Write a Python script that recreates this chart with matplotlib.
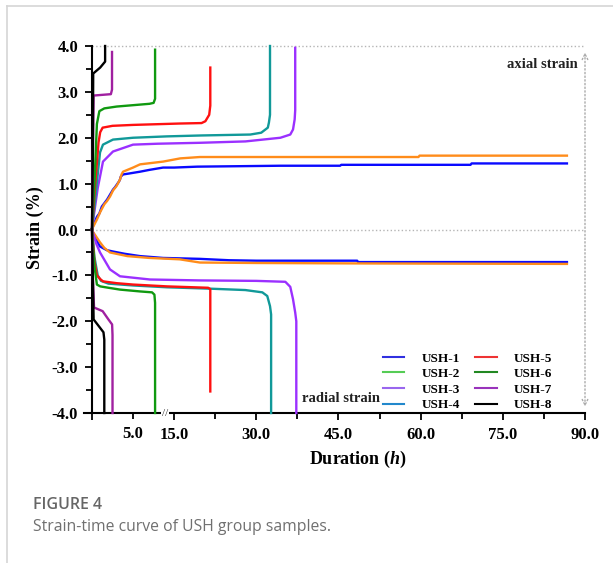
import numpy as np
import matplotlib
matplotlib.use('Agg')
import matplotlib.pyplot as plt
from matplotlib.lines import Line2D

plt.rcParams['font.family'] = ['Liberation Serif', 'DejaVu Serif']
plt.rcParams['font.weight'] = 'bold'
plt.rcParams['mathtext.fontset'] = 'custom'
plt.rcParams['mathtext.it'] = 'Liberation Serif:bold:italic'
plt.rcParams['mathtext.rm'] = 'Liberation Serif:bold'

# 数据 (时间 h, 应变 %)
ush1_ax_t = [0, 0.12, 0.61, 0.9, 1.2, 1.83, 2.0, 2.56, 2.8, 3.3, 3.41, 3.5, 3.78, 4.5, 5.85, 7.0, 8.65, 15, 19.2, 34.4, 45.3, 45.5, 69.1, 69.3, 86.7]
ush1_ax_s = [0, 0.07, 0.28, 0.35, 0.50, 0.65, 0.70, 0.87, 0.92, 1.05, 1.09, 1.15, 1.20, 1.22, 1.26, 1.30, 1.35, 1.35, 1.37, 1.39, 1.39, 1.41, 1.41, 1.44, 1.44]
ush1_ra_t = [0, 0.12, 0.61, 0.98, 1.8, 2.56, 4.0, 5.85, 8.65, 19.7, 25, 30, 48.4, 48.6, 86.7]
ush1_ra_s = [0, -0.07, -0.25, -0.37, -0.45, -0.48, -0.53, -0.58, -0.62, -0.64, -0.67, -0.68, -0.68, -0.71, -0.71]

ush2_ax_t = [0, 0.12, 0.61, 1.0, 1.5, 1.83, 2.2, 2.56, 3.0, 3.41, 3.6, 3.78, 5.0, 5.85, 8.65, 16.1, 19.7, 40, 59.6, 59.8, 86.7]
ush2_ax_s = [0, 0.05, 0.22, 0.38, 0.55, 0.62, 0.72, 0.85, 0.95, 1.09, 1.20, 1.26, 1.35, 1.42, 1.48, 1.55, 1.58, 1.58, 1.58, 1.61, 1.61]
ush2_ra_t = [0, 0.12, 0.98, 1.5, 2.19, 4.3, 7.0, 16, 19.7, 30, 50, 86.7]
ush2_ra_s = [0, -0.05, -0.28, -0.40, -0.50, -0.58, -0.62, -0.65, -0.72, -0.73, -0.74, -0.75]

ush3_ax_t = [0, 0.3, 0.7, 1.34, 2.56, 5.0, 8.0, 19.7, 28, 34.4, 36.2, 36.7, 37.0, 37.1, 37.1]
ush3_ax_s = [0, 0.4, 0.9, 1.48, 1.70, 1.85, 1.87, 1.89, 1.92, 2.0, 2.07, 2.18, 2.4, 2.6, 3.96]
ush3_ra_t = [0, 0.5, 0.98, 2.19, 3.41, 7.07, 19.7, 30, 35.3, 36.2, 36.7, 37.1, 37.3, 37.3]
ush3_ra_s = [0, -0.3, -0.5, -0.87, -1.02, -1.09, -1.11, -1.12, -1.14, -1.25, -1.52, -1.81, -2.0, -4.0]

ush4_ax_t = [0, 0.3, 0.7, 0.98, 1.34, 2.56, 5.0, 13.7, 20, 28.9, 30.9, 32.1, 32.3, 32.5, 32.5]
ush4_ax_s = [0, 0.5, 1.2, 1.68, 1.85, 1.96, 2.0, 2.03, 2.05, 2.07, 2.11, 2.22, 2.33, 2.5, 4.0]
ush4_ra_t = [0, 0.3, 0.7, 1.1, 2, 5, 13.7, 21.6, 28, 31.1, 32.0, 32.5, 32.7, 32.7]
ush4_ra_s = [0, -0.6, -1.0, -1.12, -1.18, -1.22, -1.26, -1.29, -1.32, -1.37, -1.45, -1.67, -1.85, -4.0]

ush5_ax_t = [0, 0.4, 0.8, 1.0, 1.3, 2.5, 5, 10, 16, 20, 20.7, 21.4, 21.6, 21.6]
ush5_ax_s = [0, 1.0, 1.9, 2.12, 2.22, 2.26, 2.28, 2.30, 2.31, 2.32, 2.36, 2.5, 2.7, 3.53]
ush5_ra_t = [0, 0.3, 0.6, 1.0, 1.34, 3, 5, 13.7, 21.2, 21.6, 21.6]
ush5_ra_s = [0, -0.7, -1.0, -1.08, -1.13, -1.17, -1.2, -1.24, -1.27, -1.3, -3.53]

ush6_ax_t = [0, 0.3, 0.6, 0.9, 1.5, 3, 5, 7.0, 7.5, 7.68, 7.68]
ush6_ax_s = [0, 1.0, 2.3, 2.58, 2.64, 2.68, 2.71, 2.74, 2.76, 2.85, 3.92]
ush6_ra_t = [0, 0.3, 0.6, 1.0, 2, 3.41, 5.85, 7.31, 7.6, 7.68, 7.68]
ush6_ra_s = [0, -0.8, -1.2, -1.24, -1.27, -1.31, -1.35, -1.37, -1.42, -1.6, -4.0]

ush7_ax_t = [0, 0.1, 0.2, 2.3, 2.44, 2.44]
ush7_ax_s = [0, 1.5, 2.92, 2.95, 3.05, 3.87]
ush7_ra_t = [0, 0.1, 0.25, 1.3, 2.0, 2.45, 2.5, 2.5]
ush7_ra_s = [0, -1.0, -1.70, -1.78, -1.96, -2.07, -2.3, -4.0]

ush8_ax_t = [0, 0.1, 0.15, 1.0, 1.6, 1.6]
ush8_ax_s = [0, 1.5, 3.40, 3.53, 3.66, 4.0]
ush8_ra_t = [0, 0.1, 0.2, 1.4, 1.5, 1.5]
ush8_ra_s = [0, -1.0, -1.96, -2.24, -2.4, -4.0]

curves = [
    (ush1_ax_t, ush1_ax_s, ush1_ra_t, ush1_ra_s, '#0a0aff'),
    (ush2_ax_t, ush2_ax_s, ush2_ra_t, ush2_ra_s, '#ff8c1a'),
    (ush3_ax_t, ush3_ax_s, ush3_ra_t, ush3_ra_s, '#9b30ff'),
    (ush4_ax_t, ush4_ax_s, ush4_ra_t, ush4_ra_s, '#119999'),
    (ush5_ax_t, ush5_ax_s, ush5_ra_t, ush5_ra_s, '#ff1010'),
    (ush6_ax_t, ush6_ax_s, ush6_ra_t, ush6_ra_s, '#109910'),
    (ush7_ax_t, ush7_ax_s, ush7_ra_t, ush7_ra_s, '#a020a0'),
    (ush8_ax_t, ush8_ax_s, ush8_ra_t, ush8_ra_s, '#000000'),
]

legend_names = ['USH-1', 'USH-2', 'USH-3', 'USH-4', 'USH-5', 'USH-6', 'USH-7', 'USH-8']
legend_colors = ['#3030e0', '#55cc55', '#9966ee', '#2288cc', '#ee3333', '#228822', '#9933bb', '#000000']

x_major = [0, 15, 30, 45, 60, 75, 90]
x_major_labels = ['', '15.0', '30.0', '45.0', '60.0', '75.0', '90.0']
x_minor = [5, 22.5, 37.5, 52.5, 67.5, 82.5]
x_minor_labels = ['5.0', '', '', '', '', '']
y_major = [-4, -3, -2, -1, 0, 1, 2, 3, 4]
y_major_labels = ['-4.0', '-3.0', '-2.0', '-1.0', '0.0', '1.0', '2.0', '3.0', '4.0']
y_minor = [-3.5, -2.5, -1.5, -0.5, 0.5, 1.5, 2.5, 3.5]


# 断轴: 0~8.8h 压缩显示, 之后从 13.2h 接上
def fwd(x):
    x = np.asarray(x, dtype=float)
    return np.where(x <= 8.8, 1.5 * x, np.maximum(x, 13.2))


def inv(u):
    u = np.asarray(u, dtype=float)
    return np.where(u <= 13.2, u / 1.5, u)


L, R, T, B = 84, 585, 46, 413  # 坐标轴像素位置
W, H = R - L, B - T

fig = plt.figure(figsize=(6.13, 5.63), dpi=100)
ax = fig.add_axes([L / 613, 1 - B / 563, W / 613, H / 563])
ax.set_xscale('function', functions=(fwd, inv))

# 参考虚线
ax.plot([0, 90], [0, 0], ':', color='#b5b5b5', lw=1.0, zorder=1)
ax.plot([0, 90], [4, 4], ':', color='#b5b5b5', lw=1.0, zorder=1, clip_on=False)
ax.annotate('', xy=(90, 3.92), xytext=(90, -3.92),
            arrowprops=dict(arrowstyle='<->', ls=':', color='#aaaaaa', lw=1.0))

for at, asv, rt, rs, c in curves:
    ax.plot(at, asv, color=c, lw=1.7, zorder=3, clip_on=False)
    ax.plot(rt, rs, color=c, lw=1.7, zorder=3, clip_on=False)

ax.set_xlim(-0.97, 90)
ax.set_ylim(-4, 4)

ax.spines['left'].set_position(('data', 0))
ax.spines['top'].set_visible(False)
ax.spines['right'].set_visible(False)
ax.spines['left'].set_linewidth(1.5)
ax.spines['bottom'].set_linewidth(1.5)

ax.set_xticks(x_major, labels=x_major_labels)
ax.set_xticks(x_minor, labels=x_minor_labels, minor=True)
ax.set_yticks(y_major, labels=y_major_labels)
ax.set_yticks(y_minor, minor=True)
ax.tick_params(axis='both', which='both', direction='out', width=1.3, labelsize=12)
ax.tick_params(axis='both', which='major', length=5)
ax.tick_params(axis='both', which='minor', length=4)
ax.tick_params(axis='x', which='both', pad=5)
ax.tick_params(axis='y', which='both', pad=5)

# 断轴标记
ax.text((165 - L) / W, 0, '//', transform=ax.transAxes, ha='center', va='center',
        fontsize=8, fontweight='normal', color='#333333',
        bbox=dict(boxstyle='square,pad=0.05', fc='white', ec='none'), zorder=5)

ax.set_xlabel('Duration ($h$)', fontsize=13, fontweight='bold')
ax.set_ylabel('Strain (%)', fontsize=13, fontweight='bold')
ax.xaxis.set_label_coords((358 - L) / W, (B - 449) / H)
ax.yaxis.set_label_coords((44 - L) / W, (B - 228) / H)

ax.text((578 - L) / W, (B - 64) / H, 'axial strain', transform=ax.transAxes, ha='right', va='center',
        fontsize=10.5, fontweight='bold', color='#222222')
ax.text((380 - L) / W, (B - 398) / H, 'radial strain', transform=ax.transAxes, ha='right', va='center',
        fontsize=10.5, fontweight='bold', color='#222222')

handles = [Line2D([], [], color=c, lw=1.5) for c in legend_colors]
ax.legend(handles, legend_names, ncol=2, loc='lower left', bbox_to_anchor=((383 - L) / W, 0.005),
          frameon=False, prop=dict(family='Liberation Serif', weight='bold', size=9.5),
          handlelength=1.6, handletextpad=1.3, columnspacing=1.2, labelspacing=0.25,
          borderpad=0, borderaxespad=0)

# 图注
fig.text(33 / 613, 1 - 505 / 563, 'FIGURE 4', family='Open Sans', fontweight='semibold',
         fontsize=11.5, color='#666666', va='center')
fig.text(33 / 613, 1 - 527 / 563, 'Strain-time curve of USH group samples.', family='Open Sans',
         fontweight='normal', fontsize=11.3, color='#707070', va='center')

# 外框
fig.add_artist(Line2D([7 / 613, 7 / 613], [0, 1 - 6 / 563], transform=fig.transFigure, color='#d5d5d5', lw=1.2))
fig.add_artist(Line2D([7 / 613, 1], [1 - 6 / 563, 1 - 6 / 563], transform=fig.transFigure, color='#d5d5d5', lw=1.2))

fig.savefig('out.png', dpi=100)
